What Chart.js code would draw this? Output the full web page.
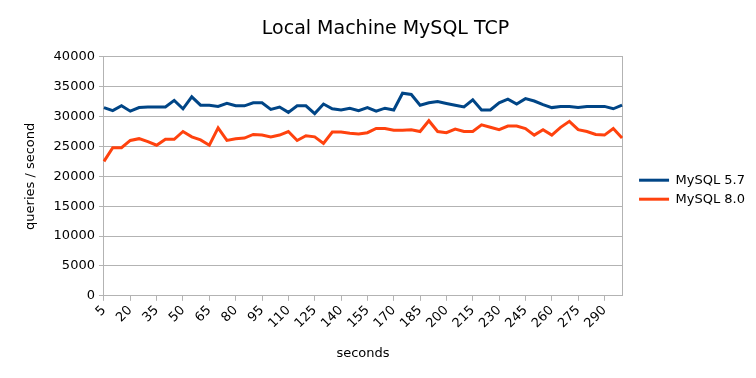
<!DOCTYPE html>
<html>
<head>
<meta charset="utf-8">
<script src="https://cdn.jsdelivr.net/npm/chart.js@4"></script>
<style>
  html, body { margin: 0; padding: 0; background: #fff; }
  #chart { display: block; }
</style>
</head>
<body>
<canvas id="chart" width="756" height="378"></canvas>
<script>
// seconds 5..300, one sample every 5 s
const seconds = [5, 10, 15, 20, 25, 30, 35, 40, 45, 50,
    55, 60, 65, 70, 75, 80, 85, 90, 95, 100,
    105, 110, 115, 120, 125, 130, 135, 140, 145, 150,
    155, 160, 165, 170, 175, 180, 185, 190, 195, 200,
    205, 210, 215, 220, 225, 230, 235, 240, 245, 250,
    255, 260, 265, 270, 275, 280, 285, 290, 295, 300];

const mysql57 = [31500, 31000, 31800, 30900, 31500, 31600, 31600, 31600, 32700, 31300,
    33300, 31900, 31900, 31700, 32200, 31800, 31800, 32300, 32300, 31200,
    31600, 30700, 31800, 31800, 30500, 32100, 31300, 31100, 31400, 31000,
    31500, 30900, 31400, 31100, 33900, 33700, 31900, 32300, 32500, 32200,
    31900, 31600, 32800, 31100, 31100, 32300, 32900, 32100, 33000, 32600,
    32000, 31500, 31700, 31700, 31500, 31700, 31700, 31700, 31300, 31900];

const mysql80 = [22500, 24800, 24800, 26000, 26300, 25800, 25200, 26200, 26200, 27500,
    26600, 26100, 25200, 28100, 26000, 26300, 26400, 27000, 26900, 26600,
    26900, 27500, 26000, 26800, 26600, 25500, 27400, 27400, 27200, 27100,
    27300, 28000, 28000, 27700, 27700, 27800, 27500, 29300, 27500, 27300,
    27900, 27500, 27500, 28600, 28200, 27800, 28400, 28400, 28000, 26900,
    27800, 26900, 28200, 29200, 27800, 27500, 27000, 26900, 28000, 26400];

const font = 'DejaVu Sans';
const gridColor = '#b3b3b3';
const textColor = '#000000';

new Chart(document.getElementById('chart'), {
    type: 'line',
    data: {
        labels: seconds,
        datasets: [
            { label: 'MySQL 5.7', data: mysql57, borderColor: '#004586', backgroundColor: '#004586', borderWidth: 3, pointRadius: 0, tension: 0 },
            { label: 'MySQL 8.0', data: mysql80, borderColor: '#ff420e', backgroundColor: '#ff420e', borderWidth: 3, pointRadius: 0, tension: 0 }
        ]
    },
    options: {
        responsive: false,
        animation: false,
        devicePixelRatio: 1,
        layout: { padding: { top: 6, left: 16, right: 1, bottom: 13 } },
        plugins: {
            title: {
                display: true,
                text: 'Local Machine MySQL TCP',
                color: textColor,
                font: { family: font, size: 19, weight: 'normal' },
                padding: { top: 12, bottom: 16 }
            },
            legend: {
                position: 'right',
                title: { display: true, text: ' ', font: { size: 2 }, padding: 3 },
                labels: {
                    color: textColor,
                    font: { family: font, size: 13 },
                    boxWidth: 30,
                    boxHeight: 3,
                    padding: 6,
                    generateLabels: (chart) => Chart.defaults.plugins.legend.labels.generateLabels(chart)
                        .map(item => ({ ...item, lineWidth: 0 }))
                }
            },
            tooltip: { enabled: false }
        },
        scales: {
            x: {
                ticks: {
                    autoSkip: false,
                    maxRotation: 45,
                    minRotation: 45,
                    color: textColor,
                    font: { family: font, size: 13 },
                    padding: 2,
                    callback: (v, i) => (i % 3 === 0 ? seconds[i] : null)
                },
                grid: { drawOnChartArea: false, color: gridColor, tickLength: 5 },
                border: { color: gridColor },
                title: { display: true, text: 'seconds', color: textColor, font: { family: font, size: 13 }, padding: { top: 12 } }
            },
            y: {
                min: 0,
                max: 40000,
                ticks: { stepSize: 5000, color: textColor, font: { family: font, size: 13 }, padding: 4, callback: v => String(v) },
                grid: { color: gridColor, tickLength: 5 },
                border: { color: gridColor },
                title: { display: true, text: 'queries / second', color: textColor, font: { family: font, size: 13 }, padding: { top: 7, bottom: 11 } }
            },
            y2: {
                position: 'right',
                min: 0,
                max: 40000,
                ticks: { display: false },
                grid: { drawOnChartArea: false, drawTicks: false },
                border: { color: gridColor },
                afterFit: axis => { axis.width = 11; }
            }
        }
    }
});
</script>
</body>
</html>
